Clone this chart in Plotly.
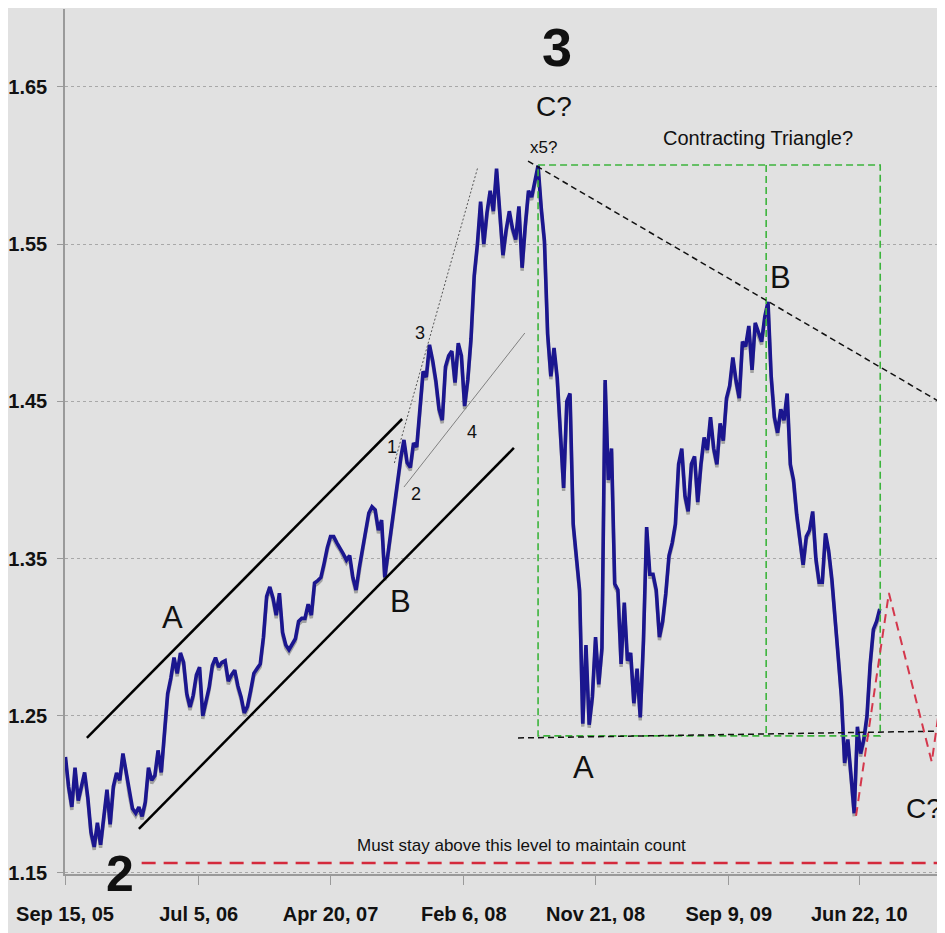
import pandas as pd
import plotly.graph_objects as go

# ---------------- data ----------------
week_start = "2005-09-16"
eurusd_weekly = [
    1.2238, 1.2047, 1.192, 1.217, 1.196, 1.205, 1.214, 1.198, 1.176, 1.1666,
    1.182, 1.168, 1.188, 1.203, 1.181, 1.205, 1.2136, 1.209, 1.226, 1.215,
    1.201, 1.191, 1.188, 1.192, 1.186, 1.195, 1.217, 1.209, 1.212, 1.228,
    1.214, 1.237, 1.264, 1.274, 1.287, 1.277, 1.29, 1.284, 1.264, 1.2556,
    1.263, 1.276, 1.281, 1.25, 1.258, 1.268, 1.282, 1.287, 1.281, 1.284,
    1.285, 1.272, 1.276, 1.279, 1.269, 1.262, 1.2518, 1.256, 1.266, 1.277,
    1.28, 1.283, 1.30, 1.326, 1.332, 1.325, 1.314, 1.328, 1.303, 1.295,
    1.292, 1.296, 1.299, 1.31, 1.312, 1.312, 1.321, 1.314, 1.3345, 1.336,
    1.338, 1.347, 1.357, 1.364, 1.364, 1.36, 1.357, 1.353, 1.349, 1.352,
    1.338, 1.33, 1.344, 1.356, 1.368, 1.379, 1.383, 1.381, 1.368, 1.3745,
    1.338, 1.354, 1.367, 1.383, 1.402, 1.414, 1.4255, 1.411, 1.408, 1.4235,
    1.421, 1.448, 1.469, 1.4655, 1.486, 1.476, 1.463, 1.445, 1.438, 1.472,
    1.479, 1.482, 1.462, 1.487, 1.479, 1.447, 1.464, 1.49, 1.53, 1.55,
    1.577, 1.55, 1.57, 1.584, 1.571, 1.598, 1.568, 1.543, 1.559, 1.571,
    1.56, 1.553, 1.574, 1.535, 1.562, 1.584, 1.58, 1.59, 1.600, 1.573,
    1.552, 1.493, 1.466, 1.484, 1.465, 1.43, 1.395, 1.45, 1.455, 1.372,
    1.35, 1.33, 1.245, 1.295, 1.2443, 1.262, 1.30, 1.27, 1.293, 1.4636,
    1.40, 1.42, 1.334, 1.33, 1.283, 1.322, 1.285, 1.29, 1.258, 1.28,
    1.249, 1.298, 1.37, 1.34, 1.34, 1.33, 1.30, 1.31, 1.328, 1.352,
    1.36, 1.372, 1.41, 1.42, 1.39, 1.38, 1.41, 1.415, 1.386, 1.41,
    1.427, 1.419, 1.44, 1.42, 1.41, 1.436, 1.425, 1.452, 1.46, 1.478,
    1.463, 1.452, 1.488, 1.485, 1.498, 1.47, 1.50, 1.493, 1.488, 1.504,
    1.5133, 1.466, 1.44, 1.43, 1.445, 1.438, 1.455, 1.41, 1.40, 1.378,
    1.363, 1.346, 1.364, 1.368, 1.38, 1.35, 1.335, 1.335, 1.366, 1.355,
    1.337, 1.314, 1.29, 1.262, 1.22, 1.235, 1.212, 1.188, 1.243, 1.226,
    1.235, 1.25, 1.283, 1.305, 1.31, 1.318,
]
dates = pd.date_range(week_start, periods=len(eurusd_weekly), freq="7D")

tick_dates = ["2005-09-15", "2006-07-05", "2007-04-20", "2008-02-06",
              "2008-11-21", "2009-09-09", "2010-06-22"]
tick_labels = ["Sep 15, 05", "Jul 5, 06", "Apr 20, 07", "Feb 6, 08",
               "Nov 21, 08", "Sep 9, 09", "Jun 22, 10"]
price_ticks = [1.15, 1.25, 1.35, 1.45, 1.55, 1.65]
x_range = ["2005-09-15", "2010-12-27"]
y_range = [1.14936, 1.69961]

# annotation lines (dates, prices)
channel_upper_x = ["2005-11-02", "2007-09-24"]
channel_upper_y = [1.2359, 1.4388]
channel_lower_x = ["2006-02-24", "2008-05-26"]
channel_lower_y = [1.178, 1.4204]
wave_line1_x = ["2007-09-07", "2008-03-08"]
wave_line1_y = [1.4108, 1.5991]
wave_line2_x = ["2007-09-28", "2008-06-19"]
wave_line2_y = [1.3955, 1.4935]
tri_upper_x = ["2008-06-26", "2010-12-27"]
tri_upper_y = [1.6029, 1.4477]
tri_lower_x = ["2008-06-04", "2010-12-27"]
tri_lower_y = [1.2359, 1.2403]
box_x = ["2008-07-18", "2009-11-30", "2010-08-07"]
box_top, box_bottom = 1.6004, 1.2372
zigzag_x = ["2010-06-15", "2010-08-26", "2010-11-28", "2011-01-18"]
zigzag_y = [1.1863, 1.3281, 1.2206, 1.326]
floor_x = ["2006-03-02", "2011-01-31"]
floor_level = 1.1564

FONT = "Liberation Sans, Arial, sans-serif"

fig = go.Figure()

# shadow of the price line, on an overlay axis shifted by ~3px
shadow_shift = 3 / 1572
fig.add_trace(go.Scatter(x=dates, y=eurusd_weekly, mode="lines", yaxis="y2",
                         line=dict(color="#a2a2a2", width=3.4),
                         hoverinfo="skip"))
# price line and drawings on a top overlay axis with the same range as y
fig.add_trace(go.Scatter(x=dates, y=eurusd_weekly, mode="lines", yaxis="y3",
                         line=dict(color="#1b168f", width=3.6)))

def seg(x, y, color, width, dash="solid"):
    fig.add_trace(go.Scatter(x=x, y=y, mode="lines", yaxis="y3",
                             line=dict(color=color, width=width, dash=dash),
                             hoverinfo="skip"))

seg(channel_upper_x, channel_upper_y, "#000000", 2.5)
seg(channel_lower_x, channel_lower_y, "#000000", 2.5)
seg(wave_line1_x, wave_line1_y, "#555555", 1, "2px,2px")
seg(wave_line2_x, wave_line2_y, "#808080", 1)

gx = [box_x[0], box_x[2], box_x[2], box_x[0], box_x[0], None, box_x[1], box_x[1]]
gy = [box_top, box_top, box_bottom, box_bottom, box_top, None, box_top, box_bottom]
seg(gx, gy, "#3cb43c", 1.6, "7px,4px")
seg(tri_upper_x, tri_upper_y, "#111111", 1.5, "6px,4px")
seg(tri_lower_x, tri_lower_y, "#111111", 1.5, "6px,4px")
seg(zigzag_x, zigzag_y, "#d4374c", 2, "9px,6px")
seg(floor_x, [floor_level, floor_level], "#d42a3c", 2.5, "14px,8px")

ann = []
def label(text, x, y, size, bold=False, yref="y"):
    ann.append(dict(text=f"<b>{text}</b>" if bold else text, x=x, y=y,
                    xref="x", yref=yref, showarrow=False,
                    xanchor="center", yanchor="middle",
                    font=dict(family=FONT, size=size, color="#111111")))

label("3", "2008-08-28", 1.6754, 54, bold=True)
label("C?", "2008-08-22", 1.6379, 28)
label("x5?", "2008-07-29", 1.6118, 17)
label("Contracting Triangle?", "2009-11-11", 1.6176, 20)
label("A", "2006-05-09", 1.3128, 31)
label("B", "2007-09-20", 1.3224, 31)
label("A", "2008-10-26", 1.2168, 31)
label("B", "2009-12-31", 1.5291, 31)
label("C?", "2010-11-11", 1.1913, 28)
label("1", "2007-09-02", 1.421, 18)
label("2", "2007-10-25", 1.3911, 18)
label("3", "2007-11-02", 1.4935, 18)
label("4", "2008-02-24", 1.4305, 18)
label("Must stay above this level to maintain count", "2008-06-12", 1.1672, 17)
label("2", "2006-01-13", 0.0, 50, bold=True, yref="paper")

# page body has an 8px margin, so the figure is 8px smaller than the window
fig.update_layout(
    width=937, height=925,
    margin=dict(l=55, r=0, t=1, b=59),
    paper_bgcolor="#e1e1e1", plot_bgcolor="#e1e1e1",
    showlegend=False,
    annotations=ann,
    xaxis=dict(type="date", range=x_range, tickmode="array",
               tickvals=tick_dates, ticktext=tick_labels,
               showgrid=False, zeroline=False,
               showline=True, linecolor="#9a9a9a", linewidth=1.5,
               ticks="outside", ticklen=9, tickcolor="#9a9a9a", tickwidth=1.2,
               tickfont=dict(family=FONT, size=20, color="#111111", weight="bold"),
               ticklabelstandoff=12),
    yaxis=dict(range=y_range, tickmode="array", tickvals=price_ticks,
               ticktext=[f"{v:.2f}" for v in price_ticks],
               showgrid=True, gridcolor="#a8a8a8", griddash="dot", gridwidth=1,
               zeroline=False,
               showline=True, linecolor="#9a9a9a", linewidth=1.5,
               ticks="outside", ticklen=6, tickcolor="#9a9a9a", tickwidth=1.2,
               tickfont=dict(family=FONT, size=20, color="#111111", weight="bold"),
               ticklabelstandoff=6),
    yaxis2=dict(overlaying="y", visible=False,
                range=[y_range[0] + shadow_shift, y_range[1] + shadow_shift]),
    yaxis3=dict(overlaying="y", visible=False, range=y_range),
)

fig.write_html("out.html")
